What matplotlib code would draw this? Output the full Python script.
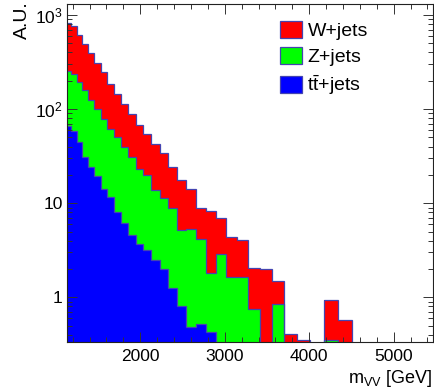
import numpy as np
import matplotlib
matplotlib.use("Agg")
import matplotlib.pyplot as plt
from matplotlib.patches import Patch
from matplotlib.ticker import MultipleLocator, LogLocator, FuncFormatter, NullFormatter

plt.rcParams['font.family'] = ['Liberation Sans', 'DejaVu Sans']
plt.rcParams['mathtext.fontset'] = 'custom'
plt.rcParams['mathtext.rm'] = 'Liberation Sans'
plt.rcParams['mathtext.it'] = 'Liberation Sans:italic'

# dijet-style mass bin edges [GeV]
bin_edges = [1118, 1181, 1246, 1313, 1383, 1455, 1530, 1607, 1687, 1770, 1856,
             1945, 2037, 2132, 2231, 2332, 2438, 2546, 2659, 2775, 2895, 3019,
             3147, 3279, 3416, 3558, 3704, 3854, 4010, 4171, 4337, 4509]

# per-process yields (A.U.)
w_jets = [567, 523, 422, 336, 269, 207, 168, 124, 96, 74.5, 57, 45, 34, 29.3,
          22.5, 15.2, 12.6, 8.9, 4.7, 6.5, 4.0, 2.8, 2.4, 1.3, 2.0, 0.65,
          0.41, 0.35, 0, 0.58, 0.57]
z_jets = [187, 179, 148, 127, 100, 81.5, 65, 50.3, 41.9, 33.4, 26.4, 19.3,
          16.8, 11.2, 9.5, 7.55, 4.4, 4.8, 3.6, 1.4, 2.9, 1.63, 1.63, 0.75,
          0, 0.85, 0, 0, 0, 0.35, 0]
tt_jets = [66, 58, 45, 31, 24.3, 19.5, 14, 11.7, 8.1, 6.1, 4.6, 3.7, 3.2, 2.5,
           2.0, 1.25, 0.8, 0.48, 0.52, 0.43, 0, 0, 0, 0, 0, 0, 0, 0, 0, 0, 0]

labels = ['W+jets', 'Z+jets', r'$\mathrm{t\bar{t}}$+jets']
colors = ['#ff0000', '#00ff00', '#0000ff']
line_col = '#4444b0'
floor = 1e-3

fig = plt.figure(figsize=(4.34, 3.91), dpi=100)
ax = fig.add_axes([0.1537, 0.1245, 0.843, 0.8652])

edges = np.array(bin_edges, dtype=float)
tt = np.array(tt_jets)
zz = tt + np.array(z_jets)
ww = zz + np.array(w_jets)

# stack: tt at the bottom, then Z, then W
layers = [(ww, zz, colors[0]), (zz, tt, colors[1]), (tt, np.zeros_like(tt), colors[2])]
for top, bot, c in layers[::-1]:
    ax.stairs(np.maximum(top, floor), edges, baseline=np.maximum(bot, floor),
              fill=True, color=c, lw=0)
for top, bot, c in layers:
    ax.stairs(np.maximum(top, floor), edges, baseline=floor, fill=False,
              color=line_col, lw=0.9)

ax.set_yscale('log')
ax.set_xlim(1130, 5460)
ax.set_ylim(0.333, 1308)

ax.xaxis.set_major_locator(MultipleLocator(1000))
ax.xaxis.set_minor_locator(MultipleLocator(200))
ax.yaxis.set_major_locator(LogLocator(base=10))
ax.yaxis.set_minor_locator(LogLocator(base=10, subs=np.arange(2, 10)))
ax.yaxis.set_minor_formatter(NullFormatter())


def ylab(v, pos):
    if v < 1.5:
        return '1'
    if v < 15:
        return '10'
    return r'$\mathrm{10^{%d}}\;\,$' % int(round(np.log10(v)))


ax.yaxis.set_major_formatter(FuncFormatter(ylab))

ax.tick_params(which='both', direction='in', top=True, right=True,
               labelsize=12.5, width=0.7, color='#333333')
ax.tick_params(which='major', length=7.2)
ax.tick_params(which='minor', length=3.6)
ax.tick_params(axis='x', pad=5)
ax.tick_params(axis='y', pad=3)
for s in ax.spines.values():
    s.set_linewidth(0.8)
    s.set_color('#222222')

ax.set_xlabel(r'm$_{\mathrm{VV}}$ [GeV]', fontsize=13, loc='right', labelpad=3)
fig.text(0.062, 0.996, 'A.U.', rotation=90, ha='right', va='baseline',
         rotation_mode='anchor', fontsize=14)

handles = [Patch(facecolor=c, edgecolor=line_col, lw=0.9) for c in colors]
ax.legend(handles, labels, loc='upper left', bbox_to_anchor=(0.583, 0.951),
          frameon=False, fontsize=14, borderpad=0, handlelength=1.13,
          handleheight=1.0, handletextpad=0.28, labelspacing=0.36,
          borderaxespad=0)

fig.savefig('out.png', dpi=100)
